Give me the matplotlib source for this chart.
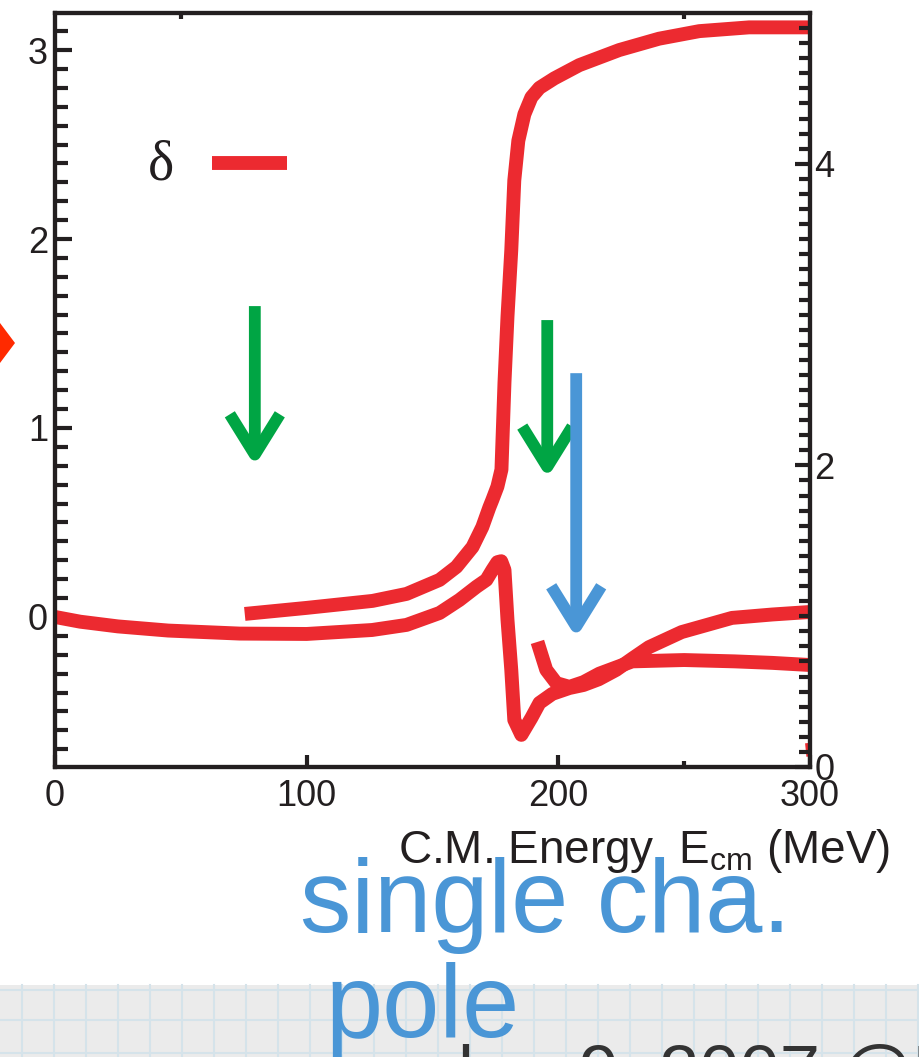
import numpy as np
import matplotlib.pyplot as plt
from matplotlib.patches import Rectangle, Polygon

plt.rcParams['font.family'] = ['Liberation Sans', 'DejaVu Sans']
plt.rcParams['mathtext.fontset'] = 'custom'
plt.rcParams['mathtext.rm'] = 'Liberation Sans'

# phase shift curve rising to pi
e_phase = [75.4, 100, 126.2, 139.7, 152.8, 159.5, 165.9, 169.8, 172.6, 173.8, 175.8, 177.4,
           178.6, 179.8, 181.3, 182.5, 184.1, 186.5, 189.3, 192.5, 198.4, 208.3, 224.2,
           240, 256, 275.8, 299.6]
d_phase = [0.016, 0.048, 0.085, 0.122, 0.196, 0.265, 0.37, 0.476, 0.58, 0.62, 0.69, 0.78,
           1.24, 1.59, 1.94, 2.31, 2.52, 2.66, 2.75, 2.80, 2.85, 2.92, 3.00,
           3.06, 3.10, 3.12, 3.12]

# curve with the sharp structure near 180 MeV
e_amp = [0, 10, 25, 45, 73.4, 100, 126, 139.7, 152.8, 160.7, 167.5, 171.4, 173.8, 175.8,
         177.3, 178.6, 179.8, 181.3, 182.5, 185.3, 189.3, 192.5, 197.6, 204.4, 210, 216, 223,
         229.4, 236, 249, 269, 285, 299.6]
d_amp = [0, -0.025, -0.05, -0.072, -0.088, -0.09, -0.069, -0.042, 0.021, 0.09, 0.16, 0.196,
         0.249, 0.29, 0.295, 0.249, -0.016, -0.28, -0.545, -0.624, -0.534, -0.455, -0.407, -0.376,
         -0.36, -0.33, -0.28, -0.22, -0.16, -0.08, -0.005, 0.013, 0.026]

# short curve starting above 190 MeV
e_high = [191.7, 195.2, 199.2, 204.4, 210, 216.3, 229.4, 250, 270, 285, 299.6]
d_high = [-0.132, -0.28, -0.35, -0.37, -0.345, -0.30, -0.235, -0.228,
          -0.235, -0.243, -0.254]

e_edge = [299.2, 298.8]
d_edge = [-0.73, -0.677]

# arrows: (energy, top, tip)
green_arrows = [(79.4, 1.645, 0.80), (195.6, 1.571, 0.735)]
blue_arrow = (207.1, 1.29, -0.11)

red = '#EC2A30'
green = '#00A544'
blue = '#4A96D6'
ink = '#231F20'

fig = plt.figure(figsize=(9.19, 10.57), dpi=100)

# slide background strip at the bottom
fig.patches.append(Rectangle((0, 0), 1, 72 / 1057, transform=fig.transFigure,
                             facecolor='#EBEBEB', edgecolor='none', zorder=0))
for gx in np.arange(22, 919, 32):
    fig.add_artist(plt.Line2D([gx / 919, gx / 919], [0, 72 / 1057], transform=fig.transFigure,
                              color='#D5E3EA', lw=1.5, zorder=0.5))
for gy in [990, 1020, 1053]:
    fig.add_artist(plt.Line2D([0, 1], [1 - gy / 1057] * 2, transform=fig.transFigure,
                              color='#D5E3EA', lw=1.5, zorder=0.5))

ax = fig.add_axes([55 / 919, 1 - 767 / 1057, 755 / 919, 754 / 1057])
ax.set_xlim(0, 300)
ax.set_ylim(-0.794, 3.196)

lw = 10
ax.plot(e_amp, d_amp, color=red, lw=lw, solid_capstyle='butt', solid_joinstyle='round')
ax.plot(e_phase, d_phase, color=red, lw=lw, solid_capstyle='butt', solid_joinstyle='round')
ax.plot(e_high, d_high, color=red, lw=lw, solid_capstyle='butt', solid_joinstyle='round')
ax.plot(e_edge, d_edge, color=red, lw=2.5, clip_on=False)

for x, y0, y1 in green_arrows:
    ax.annotate('', xy=(x, y1), xytext=(x, y0),
                arrowprops=dict(arrowstyle='->,head_length=29,head_width=18', color=green,
                                lw=8.5, shrinkA=0, shrinkB=0, mutation_scale=1,
                                capstyle='butt', joinstyle='round'))
x, y0, y1 = blue_arrow
ax.annotate('', xy=(x, y1), xytext=(x, y0),
            arrowprops=dict(arrowstyle='->,head_length=29,head_width=18', color=blue,
                            lw=8.5, shrinkA=0, shrinkB=0, mutation_scale=1,
                            capstyle='butt', joinstyle='round'))

# legend entry
ax.text(93 / 755, 1 - 152 / 754, 'δ', transform=ax.transAxes, fontsize=40,
        family=['Liberation Serif', 'DejaVu Serif'], color=ink, va='center', ha='left')
ax.plot([157 / 755, 232 / 755], [1 - 150 / 754] * 2,
        transform=ax.transAxes, color=red, lw=lw, solid_capstyle='butt')

for s in ax.spines.values():
    s.set_linewidth(3)
    s.set_color(ink)

ax.set_xticks([0, 100, 200, 300])
ax.set_xticklabels(['0', '100', '200', '300'])
ax.set_xticks([250], minor=True)
ax.set_yticks([0, 1, 2, 3])
ax.set_yticks(np.arange(-0.7, 3.15, 0.1), minor=True)
ax.tick_params(axis='x', which='major', direction='in', length=9, width=3, color=ink,
               labelsize=26, pad=9, labelcolor=ink)
ax.tick_params(axis='x', which='minor', direction='in', length=4, width=3, color=ink)
ax.tick_params(axis='y', which='major', direction='in', length=12, width=3, color=ink,
               labelsize=26, pad=5, labelcolor=ink)
ax.tick_params(axis='y', which='minor', direction='in', length=9, width=3, color=ink)

# top axis only carries small marks
axt = ax.secondary_xaxis('top')
axt.set_xticks([50, 250])
axt.tick_params(direction='in', length=4, width=3, color=ink, labeltop=False)
axt.spines['top'].set_visible(False)

ax2 = ax.twinx()
ax2.set_ylim(0, 5)
ax2.set_yticks([0, 2, 4])
ax2.set_yticks(np.arange(0.1, 5.0, 0.1), minor=True)
ax2.tick_params(axis='y', which='major', direction='in', length=11, width=3, color=ink,
                labelsize=26, pad=3, labelcolor=ink)
ax2.tick_params(axis='y', which='minor', direction='in', length=8, width=3, color=ink)
for s in ax2.spines.values():
    s.set_linewidth(3)
    s.set_color(ink)

fig.text(890 / 919, 1 - 863 / 1057, r'C.M. Energy  E$_{\rm cm}$ (MeV)', fontsize=33,
         color=ink, ha='right', va='baseline', zorder=3)

fig.text(300 / 919, 1 - 932 / 1057, 'single cha.', fontsize=74, color=blue,
         ha='left', va='baseline', zorder=5)
fig.text(325 / 919, 1 - 1037 / 1057, 'pole', fontsize=74, color=blue,
         ha='left', va='baseline', zorder=5)
fig.text(458 / 919, 1 - 1095 / 1057, 'b.   9, 2007 @5', fontsize=52, color='#333333',
         ha='left', va='baseline', zorder=4)

# pointer cut off at the left edge
fig.patches.append(Polygon([[0, 1 - 323 / 1057], [15 / 919, 1 - 343 / 1057], [0, 1 - 363 / 1057]],
                           closed=True, transform=fig.transFigure, facecolor='#FF2A00',
                           edgecolor='none', zorder=5))

fig.savefig('out.png', dpi=100)
